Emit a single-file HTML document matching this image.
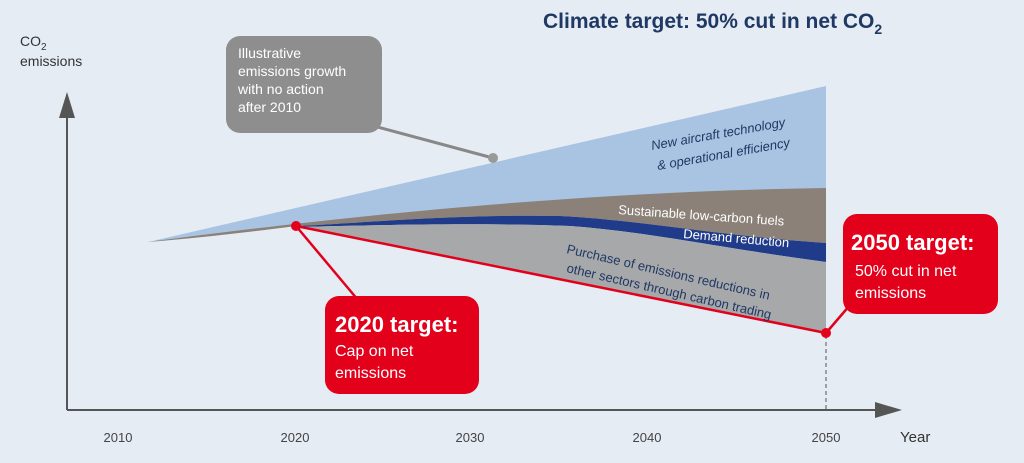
<!DOCTYPE html>
<html><head><style>
body{margin:0;width:1024px;height:458px;background:#e5ecf4;overflow:hidden;font-family:"Liberation Sans",sans-serif}
</style></head><body>
<svg width="1024" height="458" viewBox="0 0 1024 458" xmlns="http://www.w3.org/2000/svg" font-family="Liberation Sans, sans-serif">
<rect width="1024" height="458" fill="#e5ecf4"/>
<text x="543" y="28" font-size="21" font-weight="bold" fill="#1f3864">Climate target: 50% cut in net CO<tspan font-size="14" dy="6">2</tspan></text>
<text x="20" y="46" font-size="14" fill="#333">CO<tspan font-size="10" dy="4">2</tspan></text>
<text x="20" y="66" font-size="14" fill="#333">emissions</text>
<line x1="67" y1="410" x2="67" y2="100" stroke="#555" stroke-width="2"/>
<polygon points="59,118 67,92 75,118" fill="#555"/>
<line x1="67" y1="410" x2="880" y2="410" stroke="#555" stroke-width="2"/>
<polygon points="875,402 902,410 875,418" fill="#555"/>
<line x1="826" y1="335" x2="826" y2="410" stroke="#555" stroke-dasharray="4,3"/>
<g font-size="13" fill="#444" text-anchor="middle">
<text x="118" y="442">2010</text><text x="295" y="442">2020</text><text x="470" y="442">2030</text><text x="647" y="442">2040</text><text x="826" y="442">2050</text>
</g>
<text x="900" y="442" font-size="15" fill="#333">Year</text>
<polygon points="148,242 826,86 826,190 296,226" fill="#a9c3e2"/>
<path d="M148,242 C300,222 550,192 826,188 L826,243 C720,236 640,220 560,216 C450,214 350,224 296,226 C250,232 200,238 148,242 Z" fill="#8b8178"/>
<path d="M296,226 C350,224 450,214 560,216 C640,220 720,236 826,243 L826,262 C720,248 650,232 570,226 C460,222 350,226 296,227 Z" fill="#1f3b8a"/>
<path d="M296,227 C350,226 460,222 570,226 C650,232 720,248 826,262 L826,333 L296,226 Z" fill="#a7a8aa"/>
<line x1="296" y1="226" x2="826" y2="333" stroke="#e3001b" stroke-width="2.5"/>
<g font-size="13" fill="#1f3864" font-style="italic">
<text transform="translate(652,150) rotate(-10)">New aircraft technology</text>
<text transform="translate(658,170) rotate(-10)">&amp; operational efficiency</text>
</g>
<text transform="translate(618,214) rotate(4)" font-size="13" fill="#fff">Sustainable low-carbon fuels</text>
<text transform="translate(683,238) rotate(5)" font-size="13" fill="#fff">Demand reduction</text>
<g font-size="13" fill="#1f3864">
<text transform="translate(566,253) rotate(13)">Purchase of emissions reductions in</text>
<text transform="translate(566,272) rotate(13)">other sectors through carbon trading</text>
</g>
<line x1="370" y1="125" x2="493" y2="158" stroke="#888" stroke-width="3"/>
<circle cx="493" cy="158" r="5" fill="#999"/>
<rect x="226" y="36" width="156" height="97" rx="14" fill="#8e8e8e"/>
<g font-size="14" fill="#fff"><text x="238" y="58">Illustrative</text><text x="238" y="76">emissions growth</text><text x="238" y="94">with no action</text><text x="238" y="112">after 2010</text></g>
<line x1="296" y1="226" x2="358" y2="300" stroke="#e3001b" stroke-width="2.5"/>
<circle cx="296" cy="226" r="5" fill="#e3001b"/>
<line x1="826" y1="333" x2="850" y2="305" stroke="#e3001b" stroke-width="2.5"/>
<circle cx="826" cy="333" r="5" fill="#e3001b"/>
<rect x="325" y="296" width="154" height="98" rx="14" fill="#e3001b"/>
<text x="335" y="332" font-size="22" font-weight="bold" fill="#fff">2020 target:</text>
<g font-size="16" fill="#fff"><text x="335" y="356">Cap on net</text><text x="335" y="378">emissions</text></g>
<rect x="843" y="214" width="155" height="100" rx="14" fill="#e3001b"/>
<text x="851" y="250" font-size="22" font-weight="bold" fill="#fff">2050 target:</text>
<g font-size="16" fill="#fff"><text x="855" y="276">50% cut in net</text><text x="855" y="298">emissions</text></g>
</svg>
</body></html>
